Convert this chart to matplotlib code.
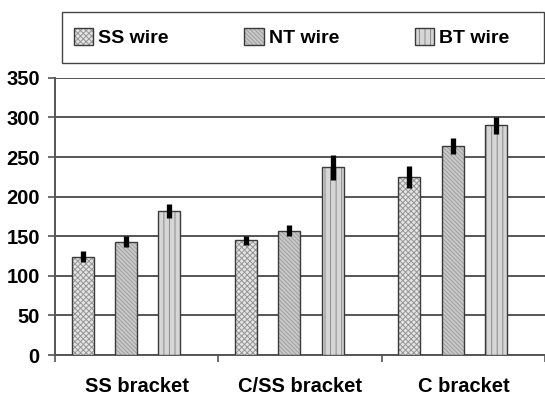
import numpy as np
import matplotlib.pyplot as plt
from matplotlib.patches import Patch, Rectangle

plt.rcParams['font.family'] = ['Liberation Sans', 'DejaVu Sans']
plt.rcParams['font.weight'] = 'bold'
plt.rcParams['hatch.linewidth'] = 0.7

# ---- data ----
brackets = ["SS bracket", "C/SS bracket", "C bracket"]
wires = ["SS wire", "NT wire", "BT wire"]
ss_wire = [124, 145, 225]
nt_wire = [143, 157, 264]
bt_wire = [182, 237, 290]
ss_err = [7, 5.5, 13.5]
nt_err = [7, 7, 10.5]
bt_err = [9, 16, 10.5]
y_ticks = [0, 50, 100, 150, 200, 250, 300, 350]

series = [ss_wire, nt_wire, bt_wire]
errors = [ss_err, nt_err, bt_err]
hatches = ["xxxxxx", "\\\\\\\\\\\\\\\\", "|||"]
faces = ["#e4e4e4", "#c8c8c8", "#d6d6d6"]
hatch_cols = ["#959595", "#a0a0a0", "#8a8a8a"]
offsets = [-0.33, -0.065, 0.2]
width = 0.135
edge = "#3a3a3a"

fig = plt.figure(figsize=(5.45, 3.99), dpi=100)
ax = fig.add_axes([0.101, 0.110, 0.899, 0.695])

x = np.arange(len(brackets))
for vals, errs, h, fc, hc, off in zip(series, errors, hatches, faces, hatch_cols, offsets):
    # hatched fill (light hatch lines), then a dark outline on top
    ax.bar(x + off, vals, width, color=fc, edgecolor=hc, linewidth=0,
           hatch=h, zorder=3)
    ax.bar(x + off, vals, width, fill=False, edgecolor=edge, linewidth=1.0,
           zorder=3.5)
    ax.errorbar(x + off, vals, yerr=errs, fmt="none", ecolor="black",
                elinewidth=3.8, capsize=0, zorder=4)

ax.set_xlim(-0.5, 2.5)
ax.set_ylim(0, 350)
ax.set_yticks(y_ticks)
ax.set_yticklabels([str(v) for v in y_ticks], fontsize=14.5, fontweight="bold")
ax.yaxis.grid(True, color="#555555", linewidth=1.4, zorder=0)
ax.set_axisbelow(True)

# group boundaries as ticks, labels centred between them
ax.set_xticks([-0.5, 0.5, 1.5, 2.5])
ax.set_xticklabels([])
ax.set_xticks(x, minor=True)
ax.set_xticklabels(brackets, minor=True, fontsize=14.5, fontweight="bold")
ax.tick_params(axis="x", which="minor", length=0, pad=16)
ax.tick_params(axis="x", which="major", length=5, color="#555555", width=1.2)
ax.tick_params(axis="y", length=5, color="#555555", width=1.2, pad=6)

for s in ["top", "right"]:
    ax.spines[s].set_visible(False)
for s in ["left", "bottom"]:
    ax.spines[s].set_color("#555555")
    ax.spines[s].set_linewidth(1.4)

# legend box drawn separately so it spans the full width like the original
fig.patches.append(Rectangle((0.1138, 0.842), 0.884, 0.128,
                             transform=fig.transFigure, fill=False,
                             edgecolor="#444444", linewidth=1.0))
handles = [(Patch(facecolor=fc, edgecolor=hc, linewidth=0, hatch=h),
            Patch(fill=False, edgecolor=edge, linewidth=1.0))
           for h, fc, hc in zip(hatches, faces, hatch_cols)]
leg = fig.legend(handles, wires, loc="center left", ncol=3,
                 bbox_to_anchor=(0.135, 0.905),
                 prop={"size": 14, "weight": "bold"}, frameon=False,
                 handlelength=1.0, handleheight=0.95, handletextpad=0.25,
                 columnspacing=3.9, borderpad=0, borderaxespad=0)

plt.savefig("out.png", dpi=100)
